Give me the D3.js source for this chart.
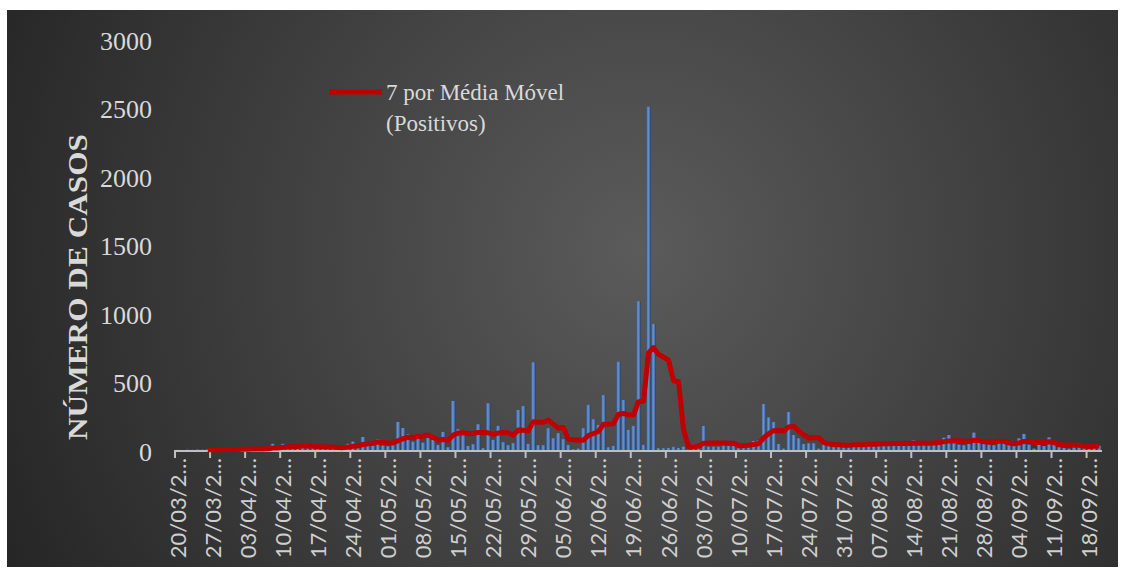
<!DOCTYPE html>
<html>
<head>
<meta charset="utf-8">
<script src="https://cdn.jsdelivr.net/npm/d3@7"></script>
<style>
body{margin:0;background:#fff}
svg{display:block}
</style>
</head>
<body>
<script>
// casos positivos por dia, a partir de 20/03
var inicio = new Date(2020, 2, 20);
var casos = [
    1, 0, 2, 1, 3, 2, 4, 2, 5, 3,
    6, 4, 7, 9, 6, 11, 8, 12, 7, 45,
    15, 45, 20, 25, 22, 40, 24, 18, 14, 18,
    20, 16, 15, 20, 45, 61, 30, 95, 50, 45,
    76, 32, 28, 36, 205, 160, 115, 61, 86, 54,
    90, 74, 37, 132, 20, 358, 152, 110, 30, 42,
    188, 13, 341, 74, 176, 57, 35, 50, 292, 321,
    45, 640, 35, 35, 159, 86, 123, 79, 36, 5,
    10, 159, 329, 225, 183, 401, 20, 30, 644, 365,
    147, 176, 1086, 37, 2505, 919, 13, 13, 15, 23,
    15, 24, 35, 44, 35, 175, 24, 24, 24, 32,
    32, 32, 49, 30, 39, 66, 73, 336, 238, 204,
    44, 10, 277, 109, 85, 44, 49, 49, 10, 39,
    39, 35, 42, 30, 45, 38, 40, 44, 49, 42,
    48, 52, 39, 55, 45, 50, 40, 73, 39, 45,
    50, 66, 66, 90, 109, 49, 39, 35, 49, 127,
    73, 49, 40, 35, 73, 49, 39, 39, 85, 117,
    39, 10, 49, 29, 92, 39, 20, 15, 10, 35,
    30, 40, 28, 35, 30
];
var ticksY = [0, 500, 1000, 1500, 2000, 2500, 3000];
var legenda = ["7 por Média Móvel", "(Positivos)"];
var tituloY = "NÚMERO DE CASOS";
var janela = 7;

var w = 1131, h = 578;

var dias = d3.timeDay.range(inicio, d3.timeDay.offset(inicio, casos.length));
var fmt = d3.timeFormat("%d/%m/%Y");
var rotulos = dias.map(function(d){ return fmt(d).slice(0, 7) + "…"; });

// media movel de 7 dias (linha de tendencia)
var media = casos.map(function(d, i){
    if (i < janela - 1) return null;
    return d3.mean(casos.slice(i - janela + 1, i + 1));
});

var svg = d3.select("body").append("svg")
    .attr("width", w)
    .attr("height", h);

var defs = svg.append("defs");
var fundo = defs.append("radialGradient")
    .attr("id", "fundo")
    .attr("gradientUnits", "userSpaceOnUse")
    .attr("cx", 640).attr("cy", 250).attr("r", 700);
fundo.append("stop").attr("offset", "0%").attr("stop-color", "#5b5b5b");
fundo.append("stop").attr("offset", "100%").attr("stop-color", "#262626");

var barraGrad = defs.append("linearGradient")
    .attr("id", "barra")
    .attr("x1", "0%").attr("x2", "100%");
barraGrad.append("stop").attr("offset", "0%").attr("stop-color", "#33578c");
barraGrad.append("stop").attr("offset", "40%").attr("stop-color", "#6e96d0");
barraGrad.append("stop").attr("offset", "75%").attr("stop-color", "#4a72ad");
barraGrad.append("stop").attr("offset", "100%").attr("stop-color", "#263f66");

svg.append("rect")
    .attr("x", 7).attr("y", 10)
    .attr("width", 1111).attr("height", 557)
    .attr("fill", "url(#fundo)");

var x = d3.scaleBand()
    .domain(d3.range(casos.length))
    .range([175, 1102])
    .paddingInner(0.12)
    .paddingOuter(0.1);

var y = d3.scaleLinear()
    .domain([0, 3000])
    .range([450, 39]);

// eixo y (so os rotulos)
svg.append("g")
    .selectAll("text")
    .data(ticksY)
    .enter().append("text")
    .attr("x", 152)
    .attr("y", function(d){ return y(d) + 2; })
    .attr("text-anchor", "end")
    .attr("dominant-baseline", "central")
    .style("font-family", "'Liberation Serif', serif")
    .style("font-size", "26px")
    .attr("fill", "#d9d9d9")
    .text(function(d){ return d; });

svg.append("text")
    .attr("transform", "translate(87,287) rotate(-90)")
    .attr("text-anchor", "middle")
    .attr("textLength", 306)
    .attr("lengthAdjust", "spacingAndGlyphs")
    .style("font-family", "'Liberation Serif', serif")
    .style("font-size", "27px")
    .style("font-weight", "bold")
    .attr("fill", "#d9d9d9")
    .text(tituloY);

// barras
svg.append("g")
    .selectAll("rect")
    .data(casos)
    .enter().append("rect")
    .attr("x", function(d, i){ return x(i); })
    .attr("width", x.bandwidth())
    .attr("y", function(d){ return y(d); })
    .attr("height", function(d){ return y(0) - y(d); })
    .attr("fill", "url(#barra)");

// eixo x
var step = x.step();
svg.append("line")
    .attr("x1", 175).attr("x2", 1102)
    .attr("y1", 451).attr("y2", 451)
    .attr("stroke", "#bfbfbf")
    .attr("stroke-width", 2);

var marcas = d3.range(0, casos.length + 1, janela);
svg.append("g")
    .selectAll("line")
    .data(marcas)
    .enter().append("line")
    .attr("x1", function(d){ return 175 + d * step; })
    .attr("x2", function(d){ return 175 + d * step; })
    .attr("y1", 450).attr("y2", 458)
    .attr("stroke", "#bfbfbf")
    .attr("stroke-width", 2);

svg.append("g")
    .selectAll("text")
    .data(d3.range(0, casos.length, janela))
    .enter().append("text")
    .attr("transform", function(d){
        var cx = x(d) + x.bandwidth() / 2;
        return "translate(" + (cx + 8) + ",458) rotate(-90)";
    })
    .attr("text-anchor", "end")
    .style("font-family", "Lato, sans-serif")
    .style("font-size", "22px")
    .attr("fill", "#cfcfcf")
    .text(function(d){ return rotulos[d]; });

// linha da media movel
var linha = d3.line()
    .defined(function(d){ return d != null; })
    .x(function(d, i){ return x(i) + x.bandwidth() / 2; })
    .y(function(d){ return y(d); });

svg.append("path")
    .datum(media)
    .attr("d", linha)
    .attr("fill", "none")
    .attr("stroke", "#c00000")
    .attr("stroke-width", 5)
    .attr("stroke-linejoin", "round");

// legenda
svg.append("line")
    .attr("x1", 329).attr("x2", 382)
    .attr("y1", 92).attr("y2", 92)
    .attr("stroke", "#c00000")
    .attr("stroke-width", 5);

svg.append("g")
    .selectAll("text")
    .data(legenda)
    .enter().append("text")
    .attr("x", 386)
    .attr("y", function(d, i){ return 100 + i * 31; })
    .style("font-family", "'Liberation Serif', serif")
    .style("font-size", "23px")
    .attr("fill", "#d9d9d9")
    .text(function(d){ return d; });
</script>
</body>
</html>
